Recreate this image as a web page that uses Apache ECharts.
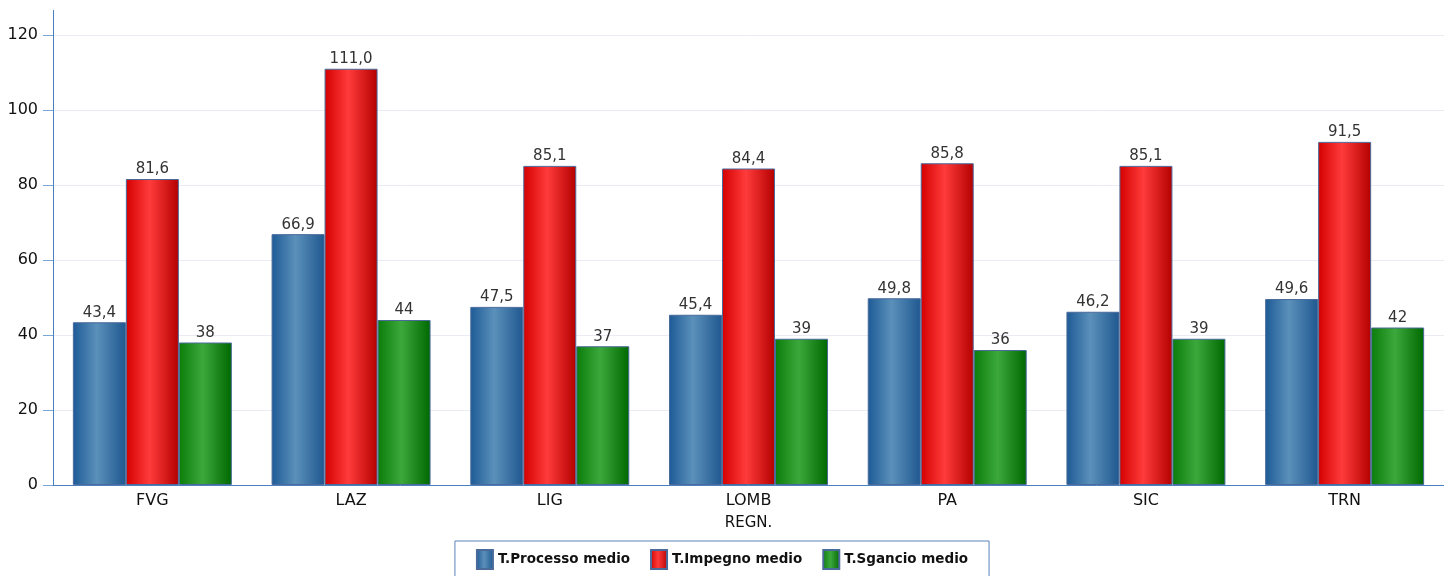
<!DOCTYPE html>
<html>
<head>
<meta charset="utf-8">
<style>
  html, body { margin: 0; padding: 0; background: #fff; }
  #chart { width: 1444px; height: 576px; }
</style>
<script src="https://cdn.jsdelivr.net/npm/echarts@6/dist/echarts.min.js"></script>
</head>
<body>
<div id="chart"></div>
<script>
// Regions on the category axis
const regions = ['FVG', 'LAZ', 'LIG', 'LOMB', 'PA', 'SIC', 'TRN'];

// Mean times per region
const processoMedio = [43.4, 66.9, 47.5, 45.4, 49.8, 46.2, 49.6];
const impegnoMedio  = [81.6, 111.0, 85.1, 84.4, 85.8, 85.1, 91.5];
const sgancioMedio  = [38, 44, 37, 39, 36, 39, 42];

const seriesNames = ['T.Processo medio', 'T.Impegno medio', 'T.Sgancio medio'];

const FONT = '"DejaVu Sans", Verdana, sans-serif';
const AXIS_BLUE = '#4a7fc0';

// Horizontal "cylinder" shading for each bar
function shade(edgeL, mid, edgeR) {
  return new echarts.graphic.LinearGradient(0, 0, 1, 0, [
    { offset: 0, color: edgeL },
    { offset: 0.45, color: mid },
    { offset: 1, color: edgeR }
  ]);
}

const fmt1 = v => v.toFixed(1).replace('.', ',');
const fmt0 = v => String(Math.round(v));

function barSeries(name, data, fill, formatter) {
  return {
    name: name,
    type: 'bar',
    data: data,
    barGap: '0%',
    barCategoryGap: '20%',
    itemStyle: { color: fill, borderColor: '#4a6a9a', borderWidth: 1 },
    label: {
      show: true,
      position: 'top',
      distance: 2,
      fontFamily: FONT,
      fontSize: 15,
      color: '#333',
      formatter: p => formatter(p.value)
    },
    emphasis: { disabled: true }
  };
}

const chart = echarts.init(document.getElementById('chart'), null, { renderer: 'canvas' });

chart.setOption({
  animation: false,
  backgroundColor: '#fff',
  grid: { left: 53, right: -8, top: 35, bottom: 91, containLabel: false },
  legend: {
    data: seriesNames,
    icon: 'rect',
    left: 'center',
    top: 541,
    orient: 'horizontal',
    itemWidth: 16,
    itemHeight: 19,
    itemGap: 20,
    padding: [8, 21, 20, 21],
    borderColor: '#5b84b8',
    borderWidth: 1,
    textStyle: { fontFamily: FONT, fontSize: 13.5, fontWeight: 'bold', color: '#111' }
  },
  xAxis: {
    type: 'category',
    data: regions,
    name: 'REGN.',
    nameLocation: 'middle',
    nameGap: 31,
    nameTextStyle: { fontFamily: FONT, fontSize: 15, color: '#111' },
    axisLine: { lineStyle: { color: AXIS_BLUE, width: 1 } },
    axisTick: { show: false },
    axisLabel: { fontFamily: FONT, fontSize: 16, color: '#111', margin: 8 }
  },
  yAxis: {
    type: 'value',
    min: 0,
    max: 120,
    interval: 20,
    axisLine: { show: true, lineStyle: { color: AXIS_BLUE, width: 1 } },
    axisTick: { show: true, length: 10, lineStyle: { color: '#7aa6d6' } },
    axisLabel: { fontFamily: FONT, fontSize: 16, color: '#111', margin: 15 },
    splitLine: { lineStyle: { color: '#ebebf3', width: 1 } }
  },
  // the value axis line runs a little past its top tick
  graphic: [{
    type: 'line',
    shape: { x1: 53.5, y1: 10, x2: 53.5, y2: 35 },
    style: { stroke: AXIS_BLUE, lineWidth: 1 },
    silent: true
  }],
  series: [
    barSeries(seriesNames[0], processoMedio, shade('#1d5a96', '#5b90ba', '#1f5890'), fmt1),
    barSeries(seriesNames[1], impegnoMedio,  shade('#d40000', '#ff3b3b', '#b40000'), fmt1),
    barSeries(seriesNames[2], sgancioMedio,  shade('#0a7d0a', '#3ca83c', '#006800'), fmt0)
  ]
});
</script>
</body>
</html>
